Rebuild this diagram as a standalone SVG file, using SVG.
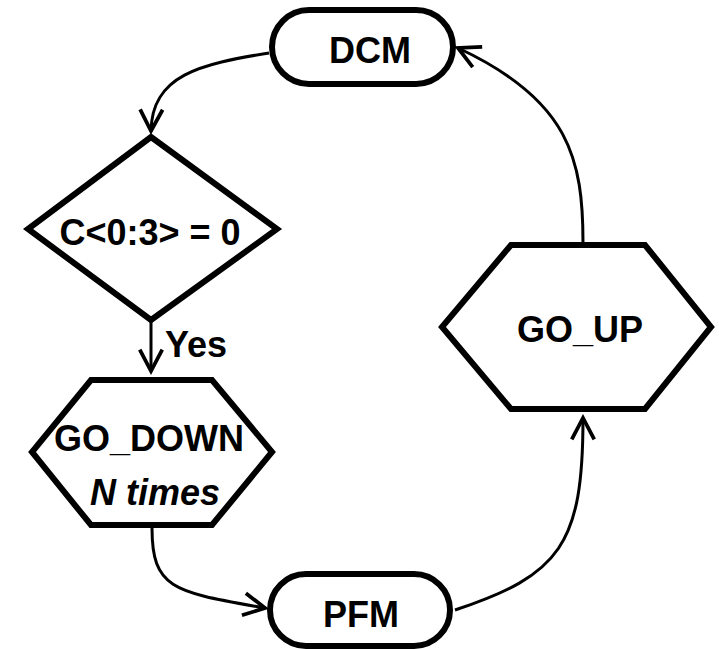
<svg xmlns="http://www.w3.org/2000/svg" width="719" height="649" viewBox="0 0 719 649">
  <style>
    .node { fill: #fff; stroke: #000; stroke-width: 6; stroke-linejoin: miter; }
    .lbl { font-family: "Liberation Sans", Arial, sans-serif; font-weight: bold; font-size: 36px; fill: #000; text-anchor: middle; }
    .it { font-style: italic; }
    .edge { fill: none; stroke: #000; stroke-width: 3; }
  </style>
  <defs>
    <marker id="arrow" markerUnits="userSpaceOnUse" markerWidth="30" markerHeight="30" viewBox="-24 -14 28 28" refX="0" refY="0" orient="auto">
      <path d="M-20,-10.5 L0,0 L-20,10.5" fill="none" stroke="#000" stroke-width="3.5"/>
    </marker>
  </defs>
  <rect width="719" height="649" fill="#fff"/>

  <g id="connectors">
    <path class="edge" d="M269,53 C200,64 152,75 151,131" marker-end="url(#arrow)"/>
    <path class="edge" d="M151,322 L151,371" marker-end="url(#arrow)"/>
    <path class="edge" d="M152,528 C152,590 175,592 265,608" marker-end="url(#arrow)"/>
    <path class="edge" d="M455,610 C560,575 583,545 583,418" marker-end="url(#arrow)"/>
    <path class="edge" d="M583,243 C583,160 570,100 458,48" marker-end="url(#arrow)"/>
  </g>

  <g id="dcm">
    <rect class="node" x="272" y="10" width="181" height="74" rx="37"/>
    <text class="lbl" x="370" y="63">DCM</text>
  </g>

  <g id="check">
    <polygon class="node" points="151,137 277,229 151,320 28,229"/>
    <text class="lbl" x="150" y="245">C&lt;0:3&gt; = 0</text>
  </g>

  <g id="yes-label">
    <text class="lbl" x="196" y="357">Yes</text>
  </g>

  <g id="go-down">
    <polygon class="node" points="91,380 212,380 272,452 212,525 91,525 32,452"/>
    <text class="lbl" x="149" y="451">GO_DOWN</text>
    <text class="lbl it" x="155" y="505">N times</text>
  </g>

  <g id="pfm">
    <rect class="node" x="270" y="574" width="180" height="72" rx="36"/>
    <text class="lbl" x="361" y="627">PFM</text>
  </g>

  <g id="go-up">
    <polygon class="node" points="511,245 645,245 711,327 645,409 511,409 442,327"/>
    <text class="lbl" x="580" y="342">GO_UP</text>
  </g>
</svg>
